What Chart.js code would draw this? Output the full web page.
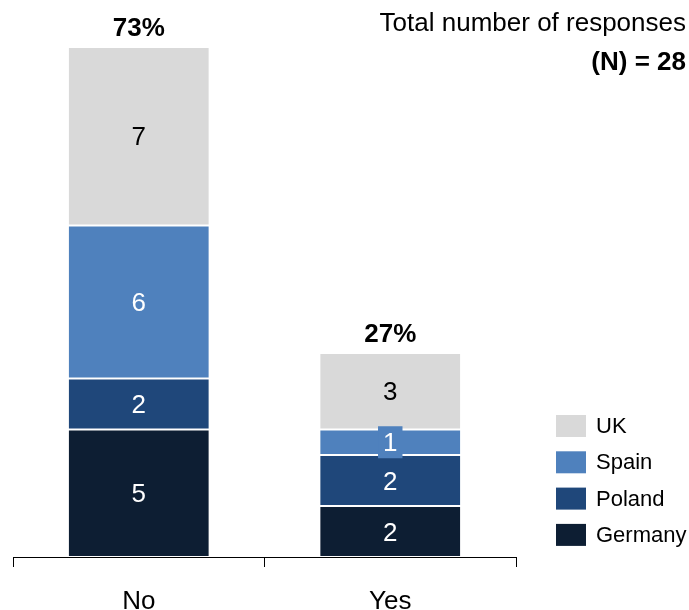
<!DOCTYPE html>
<html>
<head>
<meta charset="utf-8">
<script src="https://cdn.jsdelivr.net/npm/chart.js@4"></script>
<style>
  html, body { margin: 0; padding: 0; background: #fff; }
  #wrap { width: 689px; height: 610px; }
</style>
</head>
<body>
<div id="wrap"><canvas id="chart"></canvas></div>
<script>
const categories = ['No', 'Yes'];
const countries = ['Germany', 'Poland', 'Spain', 'UK'];
const germany = [5, 2];
const poland = [2, 2];
const spain = [6, 1];
const uk = [7, 3];
const shareLabels = ['73%', '27%'];
const titleLines = ['Total number of responses', '(N) = 28'];

const colors = ['#0d1e33', '#1f477a', '#4f81bd', '#d9d9d9'];
const labelColors = ['#fff', '#fff', '#fff', '#000'];
const font = 'Liberation Sans, Arial, sans-serif';

// Zahlen, Prozente, Titel und Legende selbst zeichnen
const overlay = {
  id: 'overlay',
  afterDatasetsDraw(chart) {
    const c = chart.ctx;
    c.save();
    c.textAlign = 'center';
    c.textBaseline = 'middle';
    c.font = '26px ' + font;
    chart.data.datasets.forEach((ds, di) => {
      chart.getDatasetMeta(di).data.forEach((bar, i) => {
        const y = (bar.y + bar.base) / 2;
        const txt = String(ds.data[i]);
        const h = Math.abs(bar.base - bar.y);
        if (h < 34) {
          // kleines Segment: Label mit Hintergrundkasten
          const w = c.measureText(txt).width + 10;
          c.fillStyle = colors[di];
          c.fillRect(bar.x - w / 2, y - 16, w, 32);
        }
        c.fillStyle = labelColors[di];
        c.fillText(txt, bar.x, y + 2);
      });
    });

    // Prozentwerte über den Balken
    const top = chart.getDatasetMeta(chart.data.datasets.length - 1).data;
    c.font = 'bold 26px ' + font;
    c.fillStyle = '#000';
    top.forEach((bar, i) => {
      c.fillText(shareLabels[i], bar.x, bar.y - 18);
    });

    // Titel rechts oben
    c.textAlign = 'right';
    c.font = '26px ' + font;
    c.fillText(titleLines[0], 686, 24);
    c.font = 'bold 26px ' + font;
    c.fillText(titleLines[1], 686, 63);

    // Legende (umgekehrte Reihenfolge)
    c.textAlign = 'left';
    c.font = '22px ' + font;
    const order = [3, 2, 1, 0];
    order.forEach((di, k) => {
      const cy = 426 + k * 36.3;
      c.fillStyle = colors[di];
      c.fillRect(556, cy - 11, 30, 22);
      c.fillStyle = '#000';
      c.fillText(chart.data.datasets[di].label, 596, cy + 1);
    });
    c.restore();
  }
};

const datasets = [germany, poland, spain, uk].map((vals, i) => ({
  label: countries[i],
  data: vals,
  backgroundColor: colors[i],
  borderColor: '#fff',
  borderWidth: { top: 1, bottom: 1, left: 0, right: 0 },
  borderSkipped: false,
  barPercentage: 0.557,
  categoryPercentage: 1
}));

new Chart(document.getElementById('chart'), {
  type: 'bar',
  data: { labels: categories, datasets: datasets },
  options: {
    responsive: true,
    maintainAspectRatio: false,
    animation: false,
    layout: { padding: { top: 47, left: 13, right: 173, bottom: -27 } },
    scales: {
      x: {
        stacked: true,
        grid: { display: true, drawOnChartArea: false, color: '#000', tickLength: 10, lineWidth: 1 },
        border: { display: true, color: '#000', width: 1 },
        ticks: { color: '#000', font: { family: font, size: 26, lineHeight: 1 }, padding: 22 }
      },
      y: { stacked: true, display: false, min: 0, max: 20 }
    },
    plugins: {
      legend: { display: false },
      tooltip: { enabled: false }
    }
  },
  plugins: [overlay]
});
</script>
</body>
</html>
